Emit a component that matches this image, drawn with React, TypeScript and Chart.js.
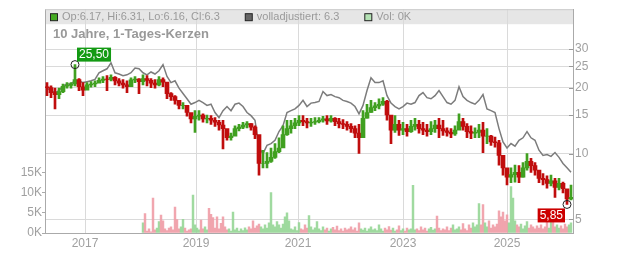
import React, { useEffect, useRef } from 'react';
import { Chart, registerables } from 'chart.js';

Chart.register(...registerables);

const FONT = '"Liberation Sans", Arial, Helvetica, sans-serif';
const GREEN = '#40a020';
const RED = '#c00d0d';
const VOL_GREEN = 'rgba(150,214,150,0.9)';
const VOL_RED = 'rgba(240,156,166,0.9)';

// Candle samples (one per bucket of trading days)
const firstOpen = 20.2;
const highs = [
  21.1, 20.4, 19.9, 19.9, 20.8, 21.1, 21.1, 25.5, 22.0, 21.1,
  21.1, 21.3, 21.5, 22.2, 22.5, 22.7, 22.9, 22.5, 22.0, 21.8,
  21.5, 22.2, 22.5, 22.0, 22.9, 22.7, 22.0, 21.8, 22.5, 22.2,
  20.2, 19.0, 18.4, 17.5, 17.1, 16.0, 15.2, 15.7, 15.7, 15.2,
  15.0, 14.9, 14.6, 14.2, 14.2, 12.4, 12.4, 13.4, 13.6, 13.9,
  14.0, 13.7, 13.4, 11.3, 10.35, 10.1, 10.6, 11.1, 11.8, 13.4,
  14.2, 14.2, 14.5, 14.9, 14.9, 14.5, 14.5, 14.6, 14.6, 14.8,
  14.9, 14.9, 14.6, 14.5, 14.3, 14.0, 13.7, 13.4, 13.6, 15.7,
  16.8, 17.5, 17.1, 17.8, 18.0, 17.5, 14.9, 14.9, 14.2, 13.9,
  13.6, 14.2, 14.5, 14.2, 13.9, 13.6, 14.0, 14.2, 14.5, 14.2,
  13.1, 13.0, 13.4, 15.2, 14.5, 13.7, 13.4, 13.1, 13.6, 13.9,
  13.0, 12.1, 11.9, 11.5, 9.3, 8.4, 8.6, 8.85, 8.8, 9.1,
  10.0, 9.5, 9.1, 8.2, 8.1, 7.9, 7.97, 7.7, 7.7, 7.4,
  6.81, 7.18,
];
const lows = [
  18.4, 18.0, 16.0, 17.8, 19.0, 19.9, 19.9, 20.4, 19.4, 18.4,
  19.9, 20.1, 20.2, 21.1, 21.1, 19.4, 21.5, 20.6, 20.4, 19.9,
  19.0, 21.1, 21.1, 18.8, 20.6, 20.4, 20.0, 19.9, 20.4, 20.2,
  17.8, 17.5, 16.8, 16.0, 16.0, 14.8, 13.8, 12.5, 14.2, 13.9,
  13.8, 13.6, 13.3, 12.8, 10.5, 11.5, 11.5, 12.5, 12.7, 13.0,
  13.1, 12.8, 11.7, 7.97, 8.6, 8.6, 9.1, 9.5, 10.1, 11.3,
  12.1, 12.4, 13.0, 13.4, 13.4, 13.1, 13.3, 13.6, 13.8, 13.9,
  13.6, 13.9, 13.4, 13.1, 13.0, 12.8, 12.5, 11.8, 10.0, 13.4,
  14.5, 15.4, 15.7, 16.0, 16.6, 14.2, 11.1, 12.5, 12.1, 12.2,
  12.0, 12.5, 12.8, 12.4, 12.2, 12.0, 12.2, 12.5, 11.8, 12.1,
  12.0, 11.8, 12.1, 13.1, 12.8, 11.8, 11.7, 11.8, 11.8, 10.1,
  11.1, 10.9, 10.7, 8.85, 7.97, 7.18, 7.35, 7.4, 7.35, 7.8,
  8.4, 8.2, 7.97, 7.35, 7.18, 6.95, 7.1, 6.3, 6.81, 6.6,
  5.85, 6.13,
];
const closes = [
  20.0, 19.0, 18.6, 19.2, 20.3, 20.5, 20.8, 21.8, 20.2, 19.5,
  20.6, 20.8, 21.0, 21.6, 21.9, 21.8, 22.3, 21.5, 21.0, 20.6,
  20.2, 21.7, 21.9, 21.3, 22.0, 21.6, 21.0, 20.6, 21.8, 21.2,
  18.8, 18.2, 17.5, 16.6, 16.6, 15.4, 14.4, 14.8, 15.0, 14.4,
  14.5, 14.2, 13.9, 13.5, 13.0, 11.8, 12.0, 13.0, 13.2, 13.5,
  13.7, 13.2, 12.2, 9.0, 9.0, 9.2, 9.6, 10.2, 10.6, 12.2,
  13.0, 13.4, 13.8, 14.2, 14.0, 13.8, 13.9, 14.0, 14.2, 14.4,
  14.1, 14.5, 14.0, 13.7, 13.6, 13.3, 13.0, 12.4, 11.8, 14.5,
  15.4, 16.2, 16.5, 16.8, 17.3, 15.0, 12.8, 13.6, 12.8, 13.0,
  12.6, 13.3, 13.6, 13.0, 12.8, 12.6, 13.0, 13.5, 13.0, 12.7,
  12.5, 12.3, 12.8, 14.0, 13.3, 12.6, 12.4, 12.5, 12.8, 12.0,
  12.0, 11.3, 11.2, 9.8, 8.6, 7.8, 8.0, 8.2, 7.8, 8.6,
  9.2, 8.8, 8.4, 7.7, 7.6, 7.3, 7.5, 7.0, 7.3, 6.9,
  6.2, 6.3,
];
// "volladjustiert" line, same buckets
const adjusted = [
  19.9, 19.4, 19.0, 19.4, 20.4, 20.8, 20.8, 21.5, 21.5, 21.1,
  21.3, 21.5, 21.8, 23.4, 23.9, 24.4, 26.0, 23.4, 23.1, 22.7,
  22.9, 23.4, 24.6, 24.4, 23.4, 22.9, 23.6, 23.1, 23.9, 25.5,
  22.5, 21.1, 21.5, 19.9, 18.8, 17.8, 16.8, 17.1, 17.5, 17.1,
  16.6, 16.8, 15.4, 14.6, 15.7, 16.4, 15.7, 16.8, 17.0, 16.4,
  15.4, 14.9, 14.2, 10.6, 10.0, 10.9, 11.1, 11.5, 12.6, 13.4,
  15.4, 15.7, 16.0, 16.6, 17.5, 16.4, 17.0, 17.1, 17.3, 19.2,
  18.4, 18.6, 18.2, 18.0, 17.5, 17.3, 17.0, 16.4, 15.2, 16.6,
  19.4, 22.2, 21.1, 21.1, 21.5, 18.4, 17.0, 16.4, 16.0, 16.4,
  17.0, 16.8, 17.1, 18.4, 19.0, 18.0, 17.8, 18.4, 19.4, 18.2,
  17.1, 16.8, 17.5, 20.2, 18.2, 17.5, 17.1, 16.8, 17.5, 18.6,
  16.0, 15.7, 15.4, 13.0, 11.3, 10.6, 11.1, 10.8, 11.5, 11.8,
  12.6, 11.8, 11.5, 10.35, 9.8, 9.9, 9.7, 10.1, 9.6, 9.0,
  8.6, 8.2,
];
// Volume in thousands, half-bucket steps, starting at bucket 24
const volumeStartIndex = 24;
const volumeStep = 0.5;
const volumeK = [
  2.5, 4.8, 0.5, 1.0, 0.3, 8.6, 0.8, 1.2, 2.8, 4.4, 3.0, 1.0, 0.6, 1.2, 1.5, 0.8, 6.4, 3.3, 1.0, 1.5, 3.4, 1.2, 0.5, 0.8, 1.0, 9.4, 2.0, 1.2, 0.8,
  3.2, 1.0, 1.5, 0.8, 6.1, 4.6, 3.8, 1.2, 4.0, 1.0, 2.4, 4.0, 1.5, 0.8, 1.0, 0.5, 5.2, 0.8, 1.2, 0.5,
  1.0, 0.6, 1.3, 0.8, 1.5, 1.0, 3.0, 1.2, 1.8, 2.2, 1.5, 1.0, 2.0, 1.2, 2.5, 10.0, 2.0, 1.5, 2.8, 2.0,
  1.2, 2.2, 4.0, 5.0, 3.0, 1.0, 0.8, 1.5, 0.6, 2.6,
  1.0, 0.8, 2.0, 1.2, 4.3, 1.5, 0.8, 1.3, 2.8, 1.0, 0.6, 1.5, 0.8, 1.2, 0.5, 1.0, 1.4, 0.8, 1.7, 0.6,
  1.0, 0.5, 1.2, 0.8, 1.0, 1.5, 0.8, 1.3, 0.5, 2.5, 1.0, 0.7, 1.2, 0.5, 1.0, 1.5, 0.8, 1.0, 0.6, 2.0,
  1.0, 0.5, 1.2, 0.8, 1.6, 0.7, 1.2, 0.5, 0.8, 1.8,
  0.6, 1.0, 0.5, 1.2, 0.8, 1.0, 11.8, 0.8, 1.0, 0.6, 1.5, 0.8, 1.2, 0.5, 1.0, 1.4, 0.7, 1.0, 4.2, 1.2,
  0.6, 1.0, 0.8, 1.5, 0.6, 1.2, 2.0, 0.8, 1.0, 1.5, 0.8, 2.3, 1.0, 0.6, 2.0, 1.2, 2.5, 1.5, 2.0, 7.3,
  2.0, 7.0, 2.5, 1.5, 3.0, 1.2, 2.0, 1.5, 2.2, 5.5,
  4.0, 5.2, 3.0, 4.5, 2.5, 11.5, 8.6, 3.0, 2.0, 1.5, 2.2, 1.0, 1.8, 2.8, 1.2, 2.0, 1.5, 1.0, 1.8, 1.2,
  2.0, 1.0, 1.5, 2.8, 1.2, 2.8, 4.0, 1.5, 2.0, 1.2, 1.8, 1.0, 2.2, 1.5, 2.0, 2.5,
];
// Bucket index at which each labelled year begins
const yearStartIndex = [9.5, 37.25, 62.75, 89, 115];
const yearLabels = ['2017', '2019', '2021', '2023', '2025'];
const priceTicks = [5, 10, 15, 20, 25, 30];
const volumeTicks = [0, 5, 10, 15];
const priceMin = 4.33;
const priceMax = 45.7;
const volumeMaxK = 55.3;

const titleText = '10 Jahre, 1-Tages-Kerzen';
const legendItems = [
  { text: 'Op:6.17, Hi:6.31, Lo:6.16, Cl:6.3', fill: '#44aa22' },
  { text: 'volladjustiert: 6.3', fill: '#666666' },
  { text: 'Vol: 0K', fill: '#b4e2b4' },
];

const opens = [firstOpen, ...closes.slice(0, -1)];
const up = closes.map((c, i) => c >= opens[i]);
const candleColors = up.map((u) => (u ? GREEN : RED));

const fmt = (v: number) => v.toFixed(2).replace('.', ',');

const overlay = {
  id: 'overlay',
  beforeDraw(chart: any) {
    const { ctx, chartArea: a } = chart;
    ctx.save();
    ctx.fillStyle = '#e6e6e6';
    ctx.fillRect(a.left, a.top, a.right - a.left, 15);
    ctx.restore();
  },
  afterDraw(chart: any) {
    const { ctx, chartArea: a, scales } = chart;
    ctx.save();
    ctx.strokeStyle = '#cccccc';
    ctx.lineWidth = 1;
    ctx.beginPath();
    ctx.moveTo(a.left, a.top + 0.5);
    ctx.lineTo(a.right, a.top + 0.5);
    ctx.stroke();

    ctx.font = `11px ${FONT}`;
    ctx.textBaseline = 'middle';
    ctx.textAlign = 'left';
    let x = a.left + 5;
    const yMid = a.top + 8;
    for (const it of legendItems) {
      ctx.fillStyle = it.fill;
      ctx.fillRect(x + 0.5, yMid - 3.5, 7, 7);
      ctx.strokeStyle = '#222';
      ctx.strokeRect(x + 0.5, yMid - 3.5, 7, 7);
      ctx.fillStyle = '#9a9a9a';
      ctx.fillText(it.text, x + 12, yMid);
      x += 12 + ctx.measureText(it.text).width + 25;
    }

    ctx.font = `bold 13px ${FONT}`;
    ctx.fillStyle = '#999999';
    ctx.fillText(titleText, a.left + 8, a.top + 25);

    ctx.strokeStyle = '#999';
    for (const v of priceTicks) {
      const y = Math.round(scales.y.getPixelForValue(v)) + 0.5;
      ctx.beginPath();
      ctx.moveTo(a.right - 4, y);
      ctx.lineTo(a.right, y);
      ctx.stroke();
    }

    let iMax = 0;
    let iMin = 0;
    highs.forEach((h, i) => { if (h > highs[iMax]) iMax = i; });
    lows.forEach((l, i) => { if (l < lows[iMin]) iMin = i; });
    ctx.font = `12px ${FONT}`;
    const drawMarker = (i: number, v: number, color: string, above: boolean) => {
      const px = scales.x.getPixelForValue(i);
      const py = scales.y.getPixelForValue(v);
      ctx.strokeStyle = '#222';
      ctx.lineWidth = 1;
      ctx.beginPath();
      ctx.arc(px, py, 4, 0, Math.PI * 2);
      ctx.stroke();
      const t = fmt(v);
      const w = ctx.measureText(t).width + 4;
      const h = 14;
      const bx = above ? px + 2 : px - 2 - w;
      const by = above ? py - 3 - h : py + 4;
      ctx.fillStyle = color;
      ctx.fillRect(bx, by, w, h);
      ctx.fillStyle = '#ffffff';
      ctx.textAlign = 'center';
      ctx.textBaseline = 'middle';
      ctx.fillText(t, bx + w / 2, by + h / 2 + 0.5);
    };
    drawMarker(iMax, highs[iMax], '#139a13', true);
    drawMarker(iMin, lows[iMin], '#cc0000', false);
    ctx.restore();
  },
};

export default function App() {
  const ref = useRef<HTMLCanvasElement>(null);
  useEffect(() => {
    const canvas = ref.current;
    if (!canvas) return;
    Chart.defaults.font.family = FONT;
    const idx = closes.map((_, i) => i);
    const wickData = idx.map((i) => ({ x: i, y: [lows[i], highs[i]] }));
    const bodyData = idx.map((i) => ({ x: i, y: [opens[i], closes[i]] }));
    const adjData = idx.map((i) => ({ x: i, y: adjusted[i] }));
    const volData = volumeK.map((v, j) => ({ x: volumeStartIndex + j * volumeStep, y: v }));
    const volColors = volumeK.map((_, j) => {
      const ci = Math.min(closes.length - 1, Math.round(volumeStartIndex + j * volumeStep));
      return up[ci] ? VOL_GREEN : VOL_RED;
    });
    const tickFont = { size: 12, family: FONT };
    const tickColor = '#a0a0a0';
    const chart = new Chart(canvas, {
      type: 'bar',
      data: {
        datasets: [
          {
            type: 'bar',
            label: 'Vol',
            data: volData as any,
            xAxisID: 'x',
            yAxisID: 'yVol',
            backgroundColor: volColors,
            barThickness: 1.8,
            grouped: false,
            order: 4,
          } as any,
          {
            type: 'line',
            label: 'volladjustiert',
            data: adjData as any,
            xAxisID: 'x',
            yAxisID: 'y',
            borderColor: '#7c7c7c',
            borderWidth: 1.5,
            pointRadius: 0,
            tension: 0,
            order: 3,
          } as any,
          {
            type: 'bar',
            label: 'wick',
            data: wickData as any,
            xAxisID: 'x',
            yAxisID: 'y',
            backgroundColor: candleColors,
            barThickness: 2,
            grouped: false,
            order: 2,
          } as any,
          {
            type: 'bar',
            label: 'body',
            data: bodyData as any,
            xAxisID: 'x',
            yAxisID: 'y',
            backgroundColor: candleColors,
            barThickness: 4,
            grouped: false,
            order: 1,
          } as any,
        ],
      },
      options: {
        animation: false,
        responsive: true,
        maintainAspectRatio: false,
        events: [],
        layout: { padding: { top: 8, left: 0, right: 0, bottom: 0 } },
        plugins: { legend: { display: false }, tooltip: { enabled: false } },
        scales: {
          x: {
            type: 'linear',
            min: -0.5,
            max: closes.length - 0.5,
            offset: false,
            grid: { color: '#dadada', offset: false, drawTicks: false },
            border: { color: '#aaaaaa' },
            afterBuildTicks: (s: any) => { s.ticks = yearStartIndex.map((v) => ({ value: v })); },
            afterFit: (s: any) => { s.height = 20; },
            ticks: {
              autoSkip: false,
              maxRotation: 0,
              padding: 3,
              color: tickColor,
              font: tickFont,
              callback: (_v: any, i: number) => yearLabels[i],
            },
          },
          y: {
            type: 'logarithmic',
            position: 'right',
            min: priceMin,
            max: priceMax,
            grid: { color: '#dadada', drawTicks: false },
            border: { color: '#aaaaaa' },
            afterBuildTicks: (s: any) => { s.ticks = priceTicks.map((v) => ({ value: v })); },
            afterFit: (s: any) => { s.width = 59; },
            ticks: {
              autoSkip: false,
              padding: 2,
              color: tickColor,
              font: tickFont,
              callback: (v: any) => String(v),
            },
          },
          yVol: {
            type: 'linear',
            position: 'left',
            min: 0,
            max: volumeMaxK,
            grid: { drawOnChartArea: false, drawTicks: true, tickLength: 3, color: '#aaaaaa' },
            border: { color: '#aaaaaa' },
            afterBuildTicks: (s: any) => { s.ticks = volumeTicks.map((v) => ({ value: v })); },
            afterFit: (s: any) => { s.width = 45; },
            ticks: {
              autoSkip: false,
              padding: 0,
              color: tickColor,
              font: tickFont,
              callback: (v: any) => `${v}K`,
            },
          },
        } as any,
      },
      plugins: [overlay],
    });
    return () => chart.destroy();
  }, []);
  return (
    <div style={{ position: 'fixed', left: 0, top: 0, width: 632, height: 253 }}>
      <canvas ref={ref} />
    </div>
  );
}
